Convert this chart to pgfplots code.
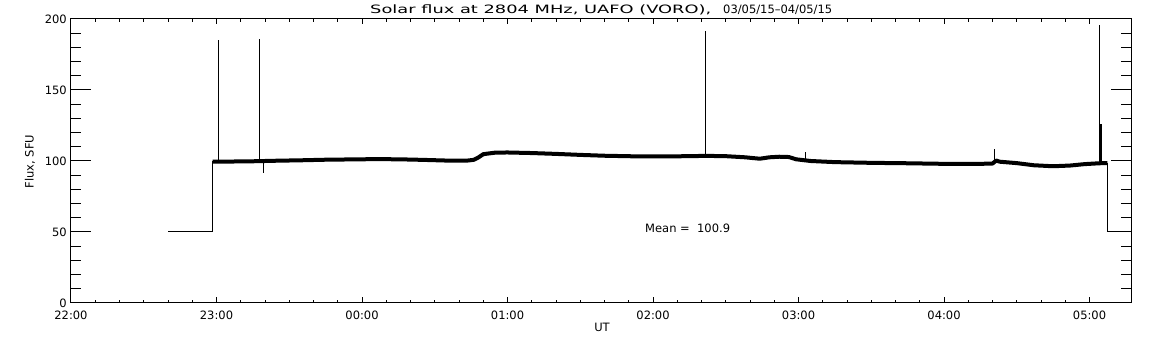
\documentclass[border=0pt]{standalone}
\usepackage{fontspec}
\setmainfont{DejaVu Sans}
\newfontfamily\widefont[FakeStretch=1.55]{DejaVu Sans}
\usepackage{pgfplots}
\pgfplotsset{compat=1.18}
\newcommand\f{\fontsize{11.5}{13.8}\selectfont}
\begin{document}
\begin{tikzpicture}
\begin{axis}[
 width=1060pt, height=284pt, scale only axis,
 xmin=0, xmax=437.1, ymin=0, ymax=200,
 axis line style={line width=1pt, black},
 xtick=\empty,
 ytick={0,50,100,150,200},
 minor y tick num=4,
 major tick length=20pt, minor tick length=10pt,
 tick style={line width=1pt, black},
 tick align=inside,
 ytick pos=both,
 yticklabel style={font=\f, inner sep=0pt, xshift=-4pt},
 /pgf/number format/assume math mode=true,
]
% structure: fill-value segments and steps
\addplot[black, line width=1pt, mark=none] coordinates {(40,50) (58.4,50) (58.4,100)};
\addplot[black, line width=1pt, mark=none] coordinates {(427.4,98.5) (427.4,50) (437.1,50)};
% noisy baseline (band)
\addplot[black, line width=4pt, line join=round, mark=none] coordinates {
(58.4,99.6) (65,99.6) (75,99.8) (85,100.2) (95,100.5) (105,100.9) (115,101.1) (125,101.3)
(135,101.2) (145,100.8) (155,100.3) (163,100.2) (166,100.8) (168,102.5) (170,104.8)
(175,105.9) (180,106) (190,105.6) (200,105) (210,104.3) (220,103.7) (235,103.2)
(250,103.3) (262,103.6) (270,103.4) (278,102.6) (284,101.6) (288,102.6) (292,103)
(296,102.8) (299,101.2) (305,100) (315,99.2) (330,98.7) (345,98.4) (360,98) (375,98)
(380,98.2) (381.5,100.3) (383,99.5) (390,98.5) (397,97) (405,96.3) (412,96.8)
(418,97.8) (424,98.4) (427.4,98.5)};
% spikes
\addplot[black, line width=1pt, mark=none] coordinates {(60.7,100) (60.7,185.2)};
\addplot[black, line width=1pt, mark=none] coordinates {(77.9,100) (77.9,186)};
\addplot[black, line width=1pt, mark=none] coordinates {(79.3,100) (79.3,91.8)};
\addplot[black, line width=1pt, mark=none] coordinates {(261.6,103.5) (261.6,191.5)};
\addplot[black, line width=1pt, mark=none] coordinates {(302.8,100.5) (302.8,106.3)};
\addplot[black, line width=1pt, mark=none] coordinates {(381,99) (381,108.5)};
\addplot[black, line width=1pt, mark=none] coordinates {(424.1,98.5) (424.1,195.8)};
\addplot[black, line width=2pt, mark=none] coordinates {(424.6,98.5) (424.6,126)};
\node[font=\f, anchor=base west, inner sep=0pt] at (axis cs:236.7,49.3) {Mean =\ \ 100.9};
\end{axis}
\begin{axis}[
 width=1060pt, height=284pt, scale only axis,
 xmin=0, xmax=437.1, ymin=0, ymax=200,
 axis line style={line width=1pt, black},
 ytick=\empty,
 xtick={0,60,120,180,240,300,360,420},
 xticklabels={22:00,23:00,00:00,01:00,02:00,03:00,04:00,05:00},
 minor x tick num=5,
 major tick length=5.5pt, minor tick length=2.8pt,
 tick style={line width=1pt, black},
 tick align=inside,
 xtick pos=both,
 xticklabel style={font=\f, inner sep=0pt, anchor=north, yshift=-7.7pt},
]
\end{axis}
\node[font=\f, anchor=base west, inner sep=0pt] at (299pt,289.7pt) {{\widefont Solar flux at 2804 MHz, UAFO (VORO),}\hspace{12pt}03/05/15–04/05/15};
\node[font=\f, rotate=90, inner sep=0pt] at (-41pt,141.5pt) {Flux, SFU};
\node[font=\f, anchor=base, inner sep=0pt] at (531pt,-29pt) {UT};
\pgfresetboundingbox
\useasboundingbox (-71pt,-42pt) rectangle (1081pt,303pt);
\end{tikzpicture}
\end{document}
